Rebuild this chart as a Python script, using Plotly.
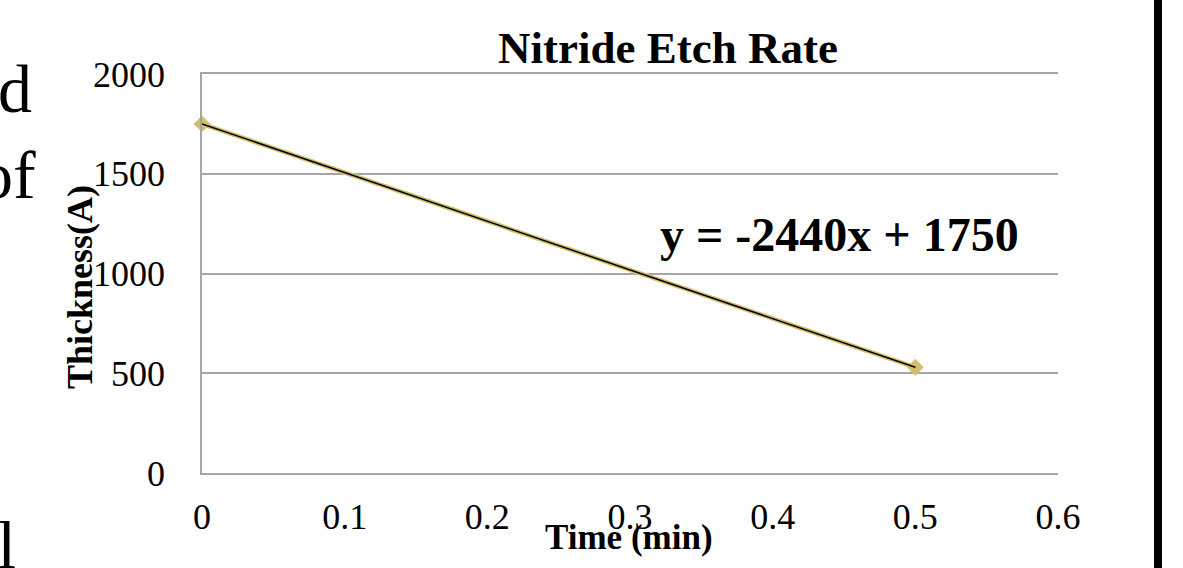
import numpy as np
import plotly.graph_objects as go

# Data
time_min = [0.0, 0.5]
thickness = [1750, 530]
x_ticks = [0, 0.1, 0.2, 0.3, 0.4, 0.5, 0.6]
y_ticks = [0, 500, 1000, 1500, 2000]
title_text = "Nitride Etch Rate"
x_title = "Time (min)"
y_title = "Thickness(A)"

slope, intercept = np.polyfit(time_min, thickness, 1)
eq_text = f"y = {slope:.0f}x + {intercept:.0f}"
trend_x = np.array([min(time_min), max(time_min)])
trend_y = slope * trend_x + intercept

FONT = "Liberation Serif, Times New Roman, serif"
W, H = 1183, 568
L, R, T, B = 202, 1058, 74, 473
PW, PH = R - L, B - T
GRID = "#A6A6A6"

def px(x):
    return (x - L) / PW

def py(y):
    return (B - y) / PH

fig = go.Figure()
fig.add_trace(go.Scatter(
    x=time_min, y=thickness, mode="lines+markers",
    line=dict(color="#D2BE6E", width=4.5),
    marker=dict(symbol="diamond", size=13, color="#D2BE6E"),
    cliponaxis=False, showlegend=False, hoverinfo="skip"))
fig.add_trace(go.Scatter(
    x=trend_x, y=trend_y, mode="lines",
    line=dict(color="black", width=1.5),
    cliponaxis=False, showlegend=False, hoverinfo="skip"))

fig.update_layout(
    width=W, height=H,
    margin=dict(l=L, r=W - R, t=T, b=H - B),
    paper_bgcolor="white", plot_bgcolor="white",
    font=dict(family=FONT, color="black"),
    title=dict(text=f"<b>{title_text}</b>", x=668 / W, xanchor="center",
               y=1 - 47 / H, yanchor="middle", xref="container", yref="container",
               font=dict(size=45, family=FONT, color="black")),
    xaxis=dict(range=[0, 0.6], tickvals=x_ticks, ticktext=[f"{v:g}" for v in x_ticks],
               showgrid=False, zeroline=False, showline=True, mirror=True,
               linecolor=GRID, linewidth=1.5,
               ticks="", tickfont=dict(size=36, family=FONT, color="black"),
               ticklabelstandoff=11),
    yaxis=dict(range=[0, 2000], tickvals=y_ticks,
               showgrid=True, gridcolor=GRID, gridwidth=1.5,
               zeroline=False, showline=True, linecolor=GRID, linewidth=1.5,
               ticks="", tickfont=dict(size=36, family=FONT, color="black"),
               ticklabelstandoff=28),
)

# axis titles
fig.add_annotation(xref="paper", yref="paper", x=px(629), y=py(537),
                   xanchor="center", yanchor="middle", showarrow=False,
                   text=f"<b>{x_title}</b>",
                   font=dict(size=35, family=FONT, color="black"))
fig.add_annotation(xref="paper", yref="paper", x=px(80), y=py(287),
                   xanchor="center", yanchor="middle", showarrow=False,
                   textangle=-90, text=f"<b>{y_title}</b>",
                   font=dict(size=36, family=FONT, color="black"))

# equation label
fig.add_annotation(xref="paper", yref="paper", x=px(658), y=py(234),
                   xanchor="left", yanchor="middle", showarrow=False,
                   text=f"<b>{eq_text}</b>",
                   font=dict(size=48, family=FONT, color="black"))

# cropped slide text on the left edge
for txt, xr, yc in [("d", 34, 89), ("of", 38, 175), ("al", 18, 545)]:
    fig.add_annotation(xref="paper", yref="paper", x=px(xr), y=py(yc),
                       xanchor="right", yanchor="middle", showarrow=False,
                       text=txt, font=dict(size=68, family=FONT, color="black"))

# black vertical bar at the right edge
fig.add_shape(type="rect", xref="paper", yref="paper",
              x0=px(1154), x1=px(1162), y0=py(H + 5), y1=py(-5),
              fillcolor="black", line=dict(width=0), layer="above")

fig.write_html(
    "out.html",
    config={"displayModeBar": False},
    post_script="document.body.style.margin='0';document.body.style.overflow='hidden';",
)
